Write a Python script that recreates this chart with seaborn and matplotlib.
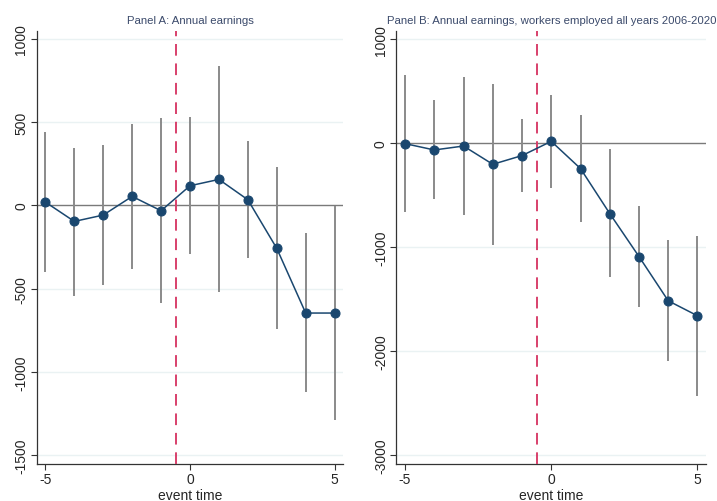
import numpy as np
import pandas as pd
import seaborn as sns
import matplotlib
matplotlib.use("Agg")
import matplotlib.pyplot as plt

# event time
event_time = [-5, -4, -3, -2, -1, 0, 1, 2, 3, 4, 5]

# Panel A: annual earnings
a_coef = [20, -96, -58, 54, -32, 118, 156, 34, -258, -646, -646]
a_lo = [-398, -542, -476, -380, -586, -290, -522, -316, -742, -1122, -1286]
a_hi = [438, 344, 361, 486, 524, 532, 838, 384, 228, -168, -2]

# Panel B: workers employed all years 2006-2020
b_coef = [-3, -64, -26, -202, -118, 19, -243, -676, -1090, -1516, -1660]
b_lo = [-660, -538, -689, -981, -468, -430, -757, -1291, -1574, -2096, -2430]
b_hi = [654, 413, 635, 574, 231, 468, 269, -58, -606, -930, -891]

panels = [
    ("Panel A: Annual earnings", a_coef, a_lo, a_hi,
     [-1500, -1000, -500, 0, 500, 1000], (-1552, 1046)),
    ("Panel B: Annual earnings, workers employed all years 2006-2020", b_coef, b_lo, b_hi,
     [-3000, -2000, -1000, 0, 1000], (-3087, 1080)),
]

sns.set_style("white")
plt.rcParams["font.family"] = ["Liberation Sans", "DejaVu Sans"]

navy = "#1a476f"
grid_col = "#eaf2f3"
ci_col = "#8a8a8a"
red = "#d8406b"

fig = plt.figure(figsize=(7.17, 5.02), dpi=100)
boxes = [[0.0512, 0.0737, 0.4276, 0.8623], [0.5527, 0.0737, 0.4323, 0.8623]]

for box, (title, coef, lo, hi, yticks, ylim) in zip(boxes, panels):
    ax = fig.add_axes(box)
    df = pd.DataFrame({"event time": event_time, "coef": coef, "lo": lo, "hi": hi})

    for yt in yticks:
        if yt != 0:
            ax.axhline(yt, color=grid_col, lw=1.0, zorder=0)
    ax.axhline(0, color="#7a7a7a", lw=1.0, zorder=1)

    ax.vlines(df["event time"], df["lo"], df["hi"], color=ci_col, lw=1.4, zorder=2)
    ax.axvline(-0.5, color=red, lw=1.4, ls=(0, (6, 4)), zorder=3)

    sns.lineplot(data=df, x="event time", y="coef", ax=ax, color=navy, lw=1.1,
                 marker="o", markersize=6.5, markeredgecolor=navy, zorder=4)

    ax.set_xlim(-5.3, 5.3)
    ax.set_ylim(*ylim)
    ax.set_xticks([-5, 0, 5])
    ax.set_yticks(yticks)
    ax.set_xticklabels(["-5", "0", "5"], fontsize=10)
    ax.set_yticklabels([str(t) for t in yticks], fontsize=10, rotation=90, va="center")
    ax.set_xlabel("event time", fontsize=10, labelpad=1)
    ax.set_ylabel("")
    ax.set_title(title, fontsize=8.2, color="#3b4a6b", pad=6)
    ax.tick_params(axis="both", length=4, width=0.8, color="#333333", pad=2,
                   bottom=True, left=True)
    for s in ["top", "right"]:
        ax.spines[s].set_visible(False)
    for s in ["left", "bottom"]:
        ax.spines[s].set_color("#333333")
        ax.spines[s].set_linewidth(0.9)

fig.savefig("out.png", dpi=100)
